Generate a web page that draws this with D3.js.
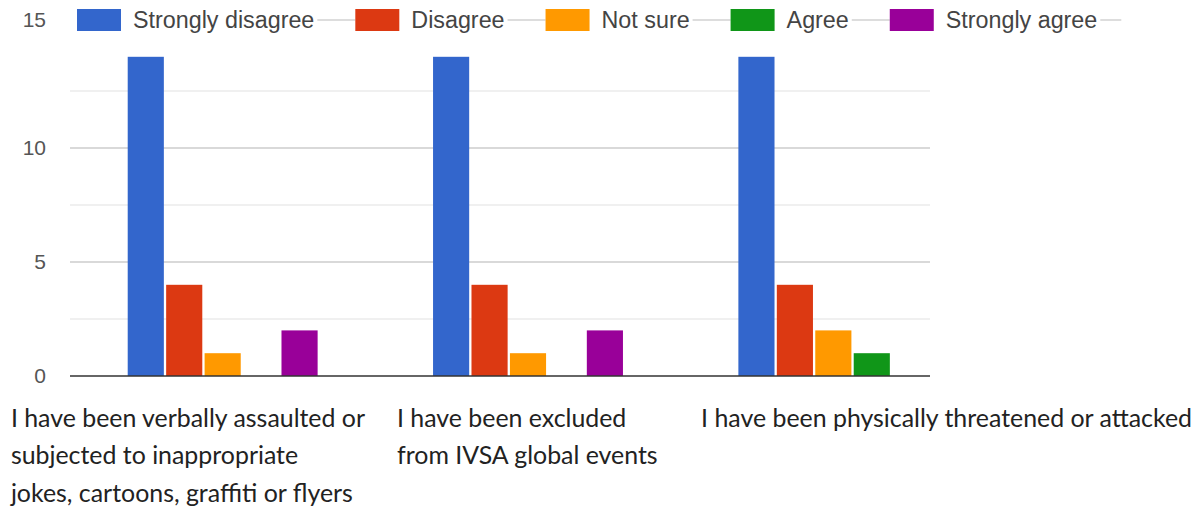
<!DOCTYPE html>
<html><head><meta charset="utf-8">
<script src="https://cdn.jsdelivr.net/npm/d3@7"></script>
<style>html,body{margin:0;padding:0;background:#fff;}svg{display:block;}</style>
</head><body>
<svg id="chart" width="1195" height="510"></svg>
<script>
const categories = [
  ["I have been verbally assaulted or", "subjected to inappropriate", "jokes, cartoons, graffiti or flyers"],
  ["I have been excluded", "from IVSA global events"],
  ["I have been physically threatened or attacked"]
];
const seriesNames = ["Strongly disagree", "Disagree", "Not sure", "Agree", "Strongly agree"];
const seriesColors = ["#3366cc", "#dc3912", "#ff9900", "#109618", "#990099"];
const stronglyDisagree = [14, 14, 14];
const disagree = [4, 4, 4];
const notSure = [1, 1, 2];
const agree = [0, 0, 1];
const stronglyAgree = [2, 2, 0];
const yTicks = [0, 5, 10, 15];
const yMinorTicks = [2.5, 7.5, 12.5];

const values = [stronglyDisagree, disagree, notSure, agree, stronglyAgree];
const catKeys = categories.map((c, i) => "c" + i);

const svg = d3.select("#chart");
const plotLeft = 70, plotRight = 930, baseY = 376;

const y = d3.scaleLinear().domain([0, 15]).range([baseY, 34]);
const x0 = d3.scaleBand().domain(catKeys).range([70, 986]).paddingInner(0.378).paddingOuter(0.189);
const x1 = d3.scaleBand().domain(seriesNames).range([0, x0.bandwidth()]).paddingInner(0.06).paddingOuter(0);

// gridlines
svg.append("g").selectAll("line").data(yMinorTicks).join("line")
  .attr("x1", plotLeft).attr("x2", plotRight)
  .attr("y1", d => y(d)).attr("y2", d => y(d))
  .attr("stroke", "#ebebeb").attr("stroke-width", 1.5);
svg.append("g").selectAll("line").data(yTicks.filter(t => t > 0 && t < 15)).join("line")
  .attr("x1", plotLeft).attr("x2", plotRight)
  .attr("y1", d => y(d)).attr("y2", d => y(d))
  .attr("stroke", "#cccccc").attr("stroke-width", 1.5);

// bars
const groups = svg.append("g").selectAll("g").data(catKeys).join("g")
  .attr("transform", d => `translate(${x0(d)},0)`);
groups.selectAll("rect").data((d, ci) => seriesNames.map((s, si) => ({s, si, v: values[si][ci]})))
  .join("rect")
  .attr("x", d => x1(d.s))
  .attr("width", x1.bandwidth())
  .attr("y", d => y(d.v))
  .attr("height", d => baseY - y(d.v))
  .attr("fill", d => seriesColors[d.si]);

// baseline
svg.append("line").attr("x1", plotLeft).attr("x2", plotRight)
  .attr("y1", y(0)).attr("y2", y(0)).attr("stroke", "#333").attr("stroke-width", 1.5);

// legend
const legendY = 20;
const legend = svg.append("g");
let lx = 77;
const swW = 44, swH = 22, textGap = 12, itemGap = 41;
seriesNames.forEach((name, i) => {
  if (i > 0) {
    legend.append("line").attr("x1", lx - itemGap + 3).attr("x2", lx)
      .attr("y1", legendY).attr("y2", legendY).attr("stroke", "#bbb").attr("stroke-width", 1);
  }
  legend.append("rect").attr("x", lx).attr("y", legendY - swH / 2).attr("width", swW).attr("height", swH)
    .attr("fill", seriesColors[i]);
  const t = legend.append("text").attr("x", lx + swW + textGap).attr("y", legendY)
    .attr("dy", "0.35em").attr("font-family", "Liberation Sans, Arial, sans-serif")
    .attr("font-size", 23.3).attr("fill", "#444").text(name);
  const w = t.node().getComputedTextLength();
  lx = lx + swW + textGap + w + itemGap;
  if (i === seriesNames.length - 1) {
    legend.append("line").attr("x1", lx - itemGap + 3).attr("x2", lx - itemGap + 24)
      .attr("y1", legendY).attr("y2", legendY).attr("stroke", "#bbb").attr("stroke-width", 1);
  }
});

// y tick labels
svg.append("g").selectAll("text").data(yTicks).join("text")
  .attr("x", 46)
  .attr("y", d => d === 15 ? legendY : y(d))
  .attr("dy", "0.35em")
  .attr("text-anchor", "end")
  .attr("font-family", "Liberation Sans, Arial, sans-serif")
  .attr("font-size", 21).attr("fill", "#555")
  .text(d => d);

// x labels (laid out right-to-left to avoid overlap)
const labelFont = "Lato, 'Open Sans', sans-serif";
const lineH = 37.5, firstLineY = 418;
const labelGroups = categories.map((lines, ci) => {
  const g = svg.append("g");
  lines.forEach((ln, li) => {
    g.append("text").attr("x", 0).attr("y", firstLineY + li * lineH).attr("dy", "0.35em")
      .attr("font-family", labelFont).attr("font-size", 24.9).attr("fill", "#222").text(ln);
  });
  const w = d3.max(g.selectAll("text").nodes(), n => n.getComputedTextLength());
  return {g, w, c: x0(catKeys[ci]) + x0.bandwidth() / 2};
});
let limit = 1195;
for (let i = labelGroups.length - 1; i >= 0; i--) {
  const L = labelGroups[i];
  let left = L.c - 131;
  if (left + L.w > limit - 3) left = limit - 3 - L.w;
  L.g.attr("transform", `translate(${left},0)`);
  limit = left - 32 + 3;
}
</script>
</body></html>
